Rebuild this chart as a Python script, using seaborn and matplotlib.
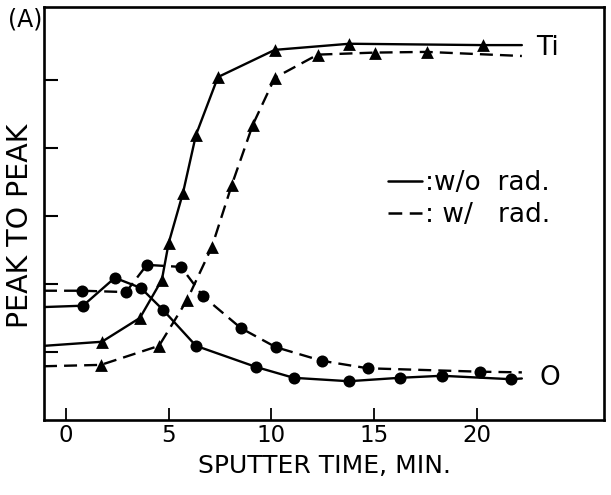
import pandas as pd
import matplotlib.pyplot as plt
import seaborn as sns
from matplotlib.lines import Line2D

# Sputter time (min) and peak-to-peak values
ti_wo_x = [1.75, 3.6, 4.67, 5.0, 5.7, 6.33, 7.4, 10.17, 13.8, 20.3]
ti_wo_y = [1.15, 1.5, 2.06, 2.6, 3.34, 4.19, 5.04, 5.44, 5.53, 5.51]
ti_w_x = [1.7, 4.53, 5.89, 7.1, 8.08, 9.1, 10.17, 12.26, 15.04, 17.57]
ti_w_y = [0.81, 1.09, 1.76, 2.54, 3.46, 4.34, 5.03, 5.37, 5.40, 5.41]
o_wo_x = [0.83, 2.38, 3.65, 4.72, 6.33, 9.25, 11.09, 13.77, 16.25, 18.3, 21.65]
o_wo_y = [1.68, 2.09, 1.94, 1.62, 1.09, 0.78, 0.62, 0.57, 0.62, 0.65, 0.60]
o_w_x = [0.78, 2.92, 3.94, 5.6, 6.67, 8.52, 10.22, 12.46, 14.7, 20.15]
o_w_y = [1.90, 1.88, 2.28, 2.25, 1.82, 1.35, 1.07, 0.87, 0.76, 0.71]

# curves start at the left frame and run out a little past the last point
t_start = -1.07
t_end = 22.2
ti_wo_ends = (1.09, 5.51)
ti_w_ends = (0.79, 5.35)
o_wo_ends = (1.66, 0.61)
o_w_ends = (1.90, 0.70)

sns.set_style("ticks")
plt.rcParams['font.family'] = ['DejaVu Sans']
for key in ['text.color', 'axes.labelcolor', 'xtick.color', 'ytick.color', 'axes.edgecolor']:
    plt.rcParams[key] = 'black'

fig = plt.figure(figsize=(6.11, 4.95), dpi=100)
ax = fig.add_axes([44 / 611, 1 - 420 / 495, 560 / 611, 413 / 495])

dash = (0, (5.5, 3))
series = [
    (ti_wo_x, ti_wo_y, ti_wo_ends, '-', '^'),
    (ti_w_x, ti_w_y, ti_w_ends, dash, '^'),
    (o_wo_x, o_wo_y, o_wo_ends, '-', 'o'),
    (o_w_x, o_w_y, o_w_ends, dash, 'o'),
]
for xs, ys, ends, ls, mk in series:
    line = pd.DataFrame({'t': [t_start] + xs + [t_end],
                         'v': [ends[0]] + ys + [ends[1]]})
    sns.lineplot(data=line, x='t', y='v', sort=False, estimator=None,
                 color='black', linewidth=1.7, linestyle=ls, ax=ax)
    pts = pd.DataFrame({'t': xs, 'v': ys})
    sns.scatterplot(data=pts, x='t', y='v', marker=mk, color='black',
                    s=85 if mk == '^' else 75, edgecolor='black', linewidth=0,
                    zorder=3, ax=ax)

ax.set_xlim(-1.07, 26.2)
ax.set_ylim(0, 6.07)
ax.set_xticks([0, 5, 10, 15, 20])
ax.set_yticks([1, 2, 3, 4, 5])
ax.set_yticklabels([])
ax.tick_params(axis='x', direction='in', length=8.5, width=1.3, labelsize=16.5, pad=3)
ax.tick_params(axis='y', direction='in', length=10, width=1.5)
for sp in ax.spines.values():
    sp.set_linewidth(1.9)
    sp.set_visible(True)

ax.set_xlabel('SPUTTER TIME, MIN.', fontsize=18, labelpad=5)
ax.set_ylabel('PEAK TO PEAK', fontsize=20.5)
ax.yaxis.set_label_coords(-0.018, 0.47)

ax.text(22.9, 5.47, 'Ti', fontsize=19, ha='left', va='center')
ax.text(23.05, 0.62, 'O', fontsize=19, ha='left', va='center')
fig.text(25 / 611, 1 - 20 / 495, '(A)', fontsize=17, ha='center', va='center')

handles = [Line2D([], [], color='black', linewidth=1.8, linestyle='-'),
           Line2D([], [], color='black', linewidth=1.8, linestyle=dash)]
ax.legend(handles, [':w/o  rad.', ': w/   rad.'], loc='upper left',
          bbox_to_anchor=(0.614, 0.605), frameon=False, fontsize=19,
          handlelength=1.3, handletextpad=0.1, labelspacing=0.22, borderpad=0,
          borderaxespad=0)

fig.savefig('out.png', dpi=100)
